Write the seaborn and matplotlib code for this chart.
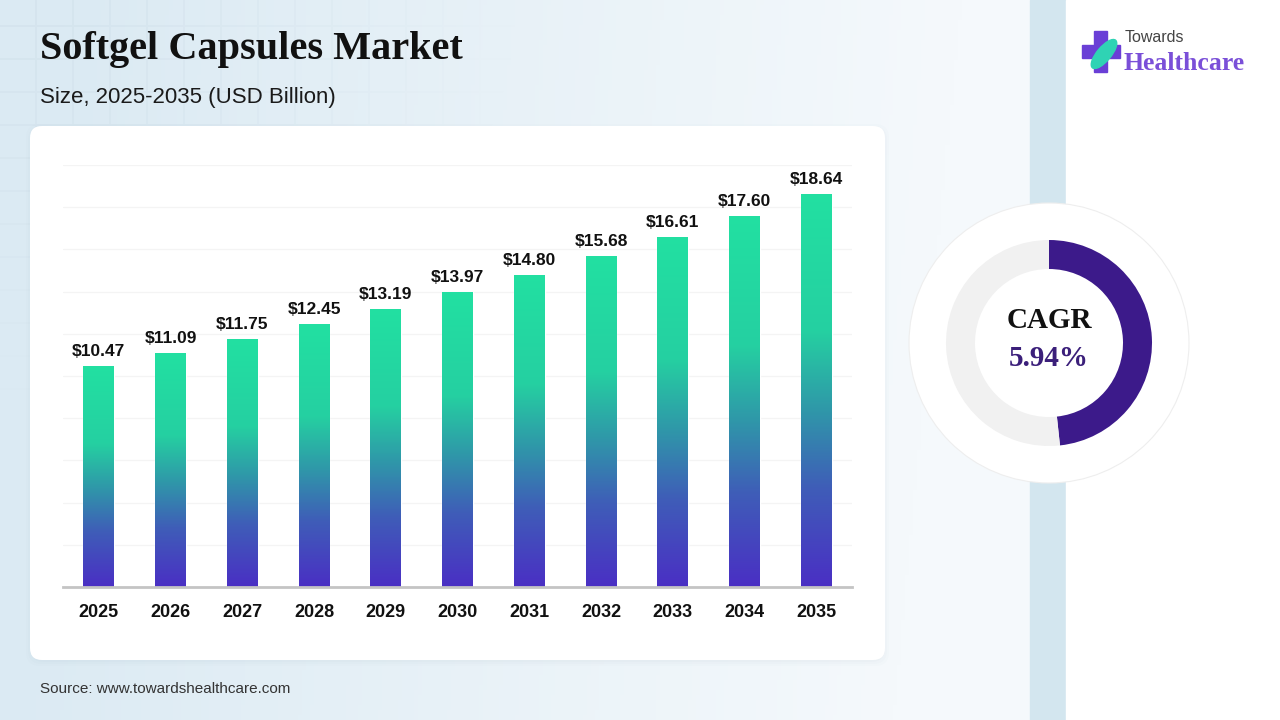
import matplotlib
matplotlib.use('Agg')
import matplotlib.pyplot as plt
import numpy as np
import pandas as pd
import seaborn as sns
from matplotlib.colors import LinearSegmentedColormap, to_rgb
from matplotlib.patches import FancyBboxPatch, Rectangle, Circle, Ellipse

# chart values
years = ['2025', '2026', '2027', '2028', '2029', '2030', '2031', '2032', '2033', '2034', '2035']
market_size = [10.47, 11.09, 11.75, 12.45, 13.19, 13.97, 14.80, 15.68, 16.61, 17.60, 18.64]
cagr_label = '5.94%'
cagr_arc = 0.483  # share of the ring filled
title = 'Softgel Capsules Market'
subtitle = 'Size, 2025-2035 (USD Billion)'
source = 'Source: www.towardshealthcare.com'

sns.set_theme(style='white')
plt.rcParams['font.family'] = ['Liberation Sans', 'DejaVu Sans']

W, H = 1280, 720
fig = plt.figure(figsize=(12.8, 7.2), dpi=100)

# background, pixel coordinates
bg = fig.add_axes([0, 0, 1, 1])
bg.set_xlim(0, W)
bg.set_ylim(H, 0)
bg.axis('off')

xx, yy = np.meshgrid(np.linspace(0, 1, 256), np.linspace(0, 1, 144))
c_left = np.array(to_rgb('#dbeaf3'))
c_right = np.array(to_rgb('#f5f9fc'))
t = np.clip(xx * 1.15 - 0.25 * (1 - yy) * 0.3, 0, 1)[..., None]
grad = c_left * (1 - t) + c_right * t
bg.imshow(grad, extent=[0, 1030, H, 0], aspect='auto', zorder=0)

# faint grid at top left
gx, gy = np.meshgrid(np.arange(1030), np.arange(H))
mask = ((gx - 35) % 37 < 1.2) | ((gy - 25) % 33 < 1.2)
fade = np.clip(1 - np.hypot(gx / 520.0, gy / 420.0), 0, 1)
grid_img = np.zeros((H, 1030, 4))
grid_img[..., :3] = to_rgb('#cddde8')
grid_img[..., 3] = mask * fade * 0.45
bg.imshow(grid_img, extent=[0, 1030, H, 0], aspect='auto', zorder=1)

bg.add_patch(Rectangle((1030, 0), 36, H, color='#d3e6ef', zorder=1))
bg.add_patch(Rectangle((1066, 0), W - 1066, H, color='white', zorder=1))

# card with soft shadow
for i, a in enumerate([0.025, 0.02, 0.015]):
    bg.add_patch(FancyBboxPatch((30 - 2 * i, 128 - 2 * i), 855 + 4 * i, 534 + 4 * i,
                                boxstyle='round,pad=0,rounding_size=14',
                                fc='#6d8aa0', ec='none', alpha=a, zorder=2))
bg.add_patch(FancyBboxPatch((30, 126), 855, 534, boxstyle='round,pad=0,rounding_size=12',
                            fc='white', ec='none', zorder=3))

bg.text(40, 50, title, fontsize=29, fontweight='bold', family=['Liberation Serif', 'DejaVu Serif'],
        color='#111111', va='center', ha='left', zorder=4)
bg.text(40, 98, subtitle, fontsize=16, color='#1a1a1a', va='center', ha='left', zorder=4)
bg.text(40, 689, source, fontsize=11, color='#333333', va='center', ha='left', zorder=4)

# logo
bg.add_patch(Rectangle((1094, 31), 13, 41, color='#6a3fd6', zorder=4))
bg.add_patch(Rectangle((1082, 45), 38, 13, color='#6a3fd6', zorder=4))
bg.add_patch(Ellipse((1104, 54), 36, 14, angle=-50, color='#2fd3b4', zorder=5))
bg.text(1125, 38, 'Towards', fontsize=11.5, color='#444444', va='center', ha='left', zorder=4)
bg.text(1123, 63, 'Healthcare', fontsize=18.5, fontweight='bold', family=['Liberation Serif', 'DejaVu Serif'],
        color='#7a4fd8', va='center', ha='left', zorder=4)

# bar chart
ax = fig.add_axes([63 / W, 1 - 587 / H, 789 / W, 422 / H])
ax.patch.set_alpha(0)
df = pd.DataFrame({'year': years, 'size': market_size})
sns.barplot(data=df, x='year', y='size', ax=ax, width=0.43, color='white', saturation=1, zorder=3)
ax.set_xlim(-0.5, 10.5)
ax.set_ylim(0, 20)
ax.set_yticks(np.arange(0, 21, 2))
ax.yaxis.grid(True, color='#f4f4f4', lw=0.9)
ax.set_axisbelow(True)
ax.tick_params(axis='y', left=False, labelleft=False)
ax.tick_params(axis='x', length=0, pad=12, labelsize=13)
for lab in ax.get_xticklabels():
    lab.set_fontweight('bold')
    lab.set_color('#111111')
ax.set_xlabel('')
ax.set_ylabel('')
for s in ['top', 'right', 'left']:
    ax.spines[s].set_visible(False)
ax.spines['bottom'].set_color('#c4c4c4')
ax.spines['bottom'].set_linewidth(2)
ax.spines['bottom'].set_zorder(5)

bar_cmap = LinearSegmentedColormap.from_list('bar', [(0, '#4a2fc4'), (0.25, '#3f5db8'), (0.45, '#2f98a9'),
                                                    (0.65, '#25d0a1'), (1, '#22e0a2')])
ramp = np.linspace(1, 0, 256)[:, None]
for p, v in zip(ax.patches, market_size):
    x0, w = p.get_x(), p.get_width()
    im = ax.imshow(ramp, cmap=bar_cmap, vmin=0, vmax=1, extent=[x0, x0 + w, 0, p.get_height()],
                   aspect='auto', zorder=4)
    im.set_clip_path(p)
    ax.annotate(f'${v:.2f}', (x0 + w / 2, v), xytext=(0, 5), textcoords='offset points',
                ha='center', va='bottom', fontsize=12.5, fontweight='bold', color='#111111', zorder=6)
ax.set_xlim(-0.5, 10.5)
ax.set_ylim(0, 20)

# CAGR ring
dax = fig.add_axes([(1049 - 150) / W, 1 - (343 + 150) / H, 300 / W, 300 / H])
dax.set_xlim(-150, 150)
dax.set_ylim(-150, 150)
dax.set_aspect('equal')
dax.axis('off')
dax.add_patch(Circle((0, 0), 140, fc='white', ec='#eeeeee', lw=0.8))
dax.pie([cagr_arc, 1 - cagr_arc], radius=103, startangle=90, counterclock=False,
        colors=['#3c1a8a', '#f1f1f1'], wedgeprops=dict(width=29, edgecolor='none'))
dax.set_xlim(-150, 150)
dax.set_ylim(-150, 150)
dax.text(0, 22, 'CAGR', ha='center', va='center', fontsize=21, fontweight='bold',
         family=['Liberation Serif', 'DejaVu Serif'], color='#111111')
dax.text(0, -16, cagr_label, ha='center', va='center', fontsize=21, fontweight='bold',
         family=['Liberation Serif', 'DejaVu Serif'], color='#3b1f7a')

fig.savefig('out.png', dpi=100)
